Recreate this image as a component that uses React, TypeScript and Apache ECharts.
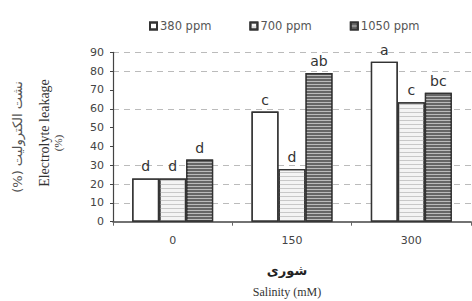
import React, { useEffect, useRef } from "react";
import * as echarts from "echarts";

const categories = ["0", "150", "300"];
const seriesNames = ["380 ppm", "700 ppm", "1050 ppm"];
const v380 = [23, 58.5, 85];
const v700 = [23, 28, 63.5];
const v1050 = [33, 79, 68.5];
const letters380 = ["d", "c", "a"];
const letters700 = ["d", "d", "c"];
const letters1050 = ["d", "ab", "bc"];

export default function App() {
  const ref = useRef<HTMLDivElement>(null);
  useEffect(() => {
    if (!ref.current) return;
    const chart = echarts.init(ref.current, undefined, { renderer: "svg" });
    const labelFor = (letters: string[]) => ({
      show: true,
      position: "top",
      distance: 5,
      fontFamily: "DejaVu Sans",
      fontSize: 14,
      color: "#333",
      formatter: (p: any) => letters[p.dataIndex],
    });
    const gridColors = ["transparent", "#bbb", "#bbb", "#bbb", "transparent", "transparent", "#bbb", "transparent", "#bbb", "#bbb"];
    chart.setOption({
      animation: false,
      backgroundColor: "#fff",
      legend: {
        top: 15,
        left: 144,
        icon: "rect",
        itemWidth: 7,
        itemHeight: 7,
        itemGap: 38,
        textStyle: { fontFamily: "DejaVu Sans", fontSize: 11.5, color: "#555", padding: [0, 0, 0, -2] },
        data: seriesNames,
      },
      grid: { left: 113, right: 1, top: 52.3, bottom: 79.3 },
      xAxis: {
        type: "category",
        data: categories,
        axisLine: { lineStyle: { color: "#444", width: 1.5 } },
        axisTick: { show: true, length: 4, lineStyle: { color: "#666" } },
        axisLabel: { fontFamily: "DejaVu Sans", fontSize: 11, color: "#444", margin: 13 },
      },
      yAxis: {
        type: "value",
        min: 0,
        max: 90,
        interval: 10,
        axisLine: { show: true, lineStyle: { color: "#444", width: 1.2 } },
        axisTick: { show: true, length: 3, lineStyle: { color: "#444" } },
        axisLabel: { fontFamily: "DejaVu Sans", fontSize: 11, color: "#444", margin: 9 },
        splitLine: { show: true, lineStyle: { type: [6, 5], color: gridColors, width: 1 } },
      },
      series: [
        {
          name: seriesNames[0],
          type: "bar",
          data: v380,
          barWidth: 27,
          barGap: "0%",
          itemStyle: {
            color: "#fff",
            borderColor: "#333",
            borderWidth: 1.3,
            decal: { symbol: "circle", symbolSize: 0.6, dashArrayX: [1, 4], dashArrayY: [1, 4], color: "#ccc" },
          },
          label: labelFor(letters380),
        },
        {
          name: seriesNames[1],
          type: "bar",
          data: v700,
          barWidth: 27,
          barGap: "0%",
          itemStyle: {
            color: "#f4f4f4",
            borderColor: "#333",
            borderWidth: 1.3,
            decal: { symbol: "rect", symbolSize: 1, dashArrayX: [1, 0], dashArrayY: [1, 3], color: "#c8c8c8" },
          },
          label: labelFor(letters700),
        },
        {
          name: seriesNames[2],
          type: "bar",
          data: v1050,
          barWidth: 27,
          barGap: "0%",
          itemStyle: {
            color: "#666",
            borderColor: "#333",
            borderWidth: 1.3,
            decal: { symbol: "rect", symbolSize: 1, dashArrayX: [1, 0], dashArrayY: [1, 2], color: "#bbb" },
          },
          label: labelFor(letters1050),
        },
      ],
      graphic: [
        {
          type: "text",
          x: 17,
          y: 137,
          rotation: Math.PI / 2,
          style: { text: "(%) نشت الکترولیت", fontFamily: "DejaVu Sans", fontSize: 13, fill: "#555", align: "center", verticalAlign: "middle" },
        },
        {
          type: "text",
          x: 44,
          y: 133,
          rotation: Math.PI / 2,
          style: { text: "Electrolyte leakage", fontFamily: "Liberation Serif", fontSize: 14, fill: "#333", align: "center", verticalAlign: "middle" },
        },
        {
          type: "text",
          x: 58,
          y: 143,
          rotation: Math.PI / 2,
          style: { text: "(%)", fontFamily: "Liberation Serif", fontSize: 11, fill: "#333", align: "center", verticalAlign: "middle" },
        },
        {
          type: "text",
          x: 287,
          y: 270,
          style: { text: "شوری", fontFamily: "DejaVu Sans", fontSize: 13, fontWeight: "bold", fill: "#222", align: "center", verticalAlign: "middle" },
        },
        {
          type: "text",
          x: 287,
          y: 292,
          style: { text: "Salinity (mM)", fontFamily: "Liberation Serif", fontSize: 12, fill: "#333", align: "center", verticalAlign: "middle" },
        },
      ],
    });
    return () => chart.dispose();
  }, []);
  return <div ref={ref} style={{ width: 472, height: 301, position: "absolute", left: 0, top: 0 }} />;
}
